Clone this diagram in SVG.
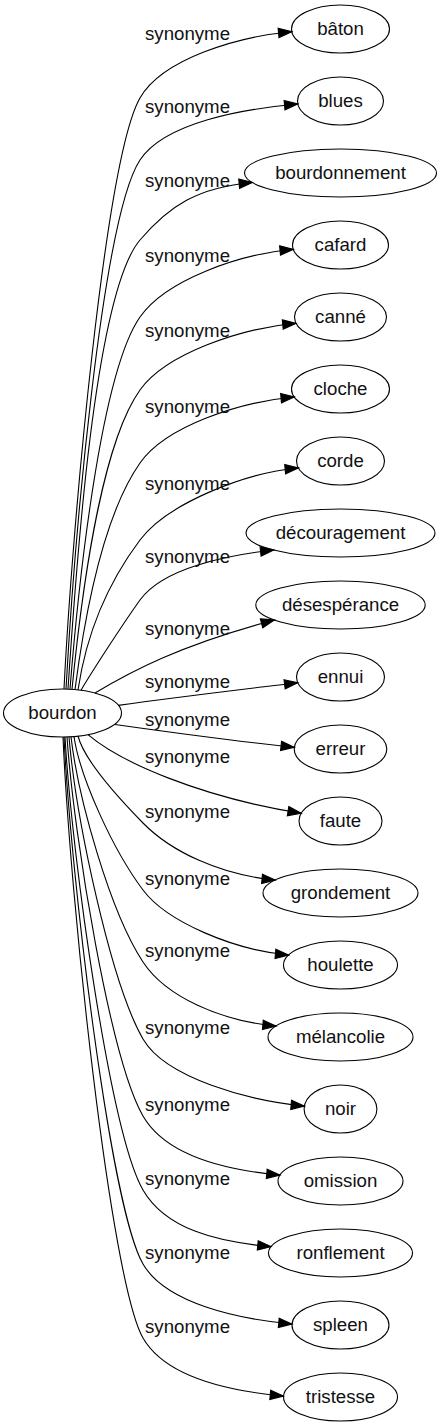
<svg xmlns="http://www.w3.org/2000/svg" width="442" height="1427" viewBox="0 0 442 1427">
<style>
.n ellipse{fill:none;stroke:#000;stroke-width:1.1}
text{font-family:"Liberation Sans",Arial,sans-serif;font-size:18.67px;text-anchor:middle;fill:#111}
.e path{fill:none;stroke:#000;stroke-width:1.1;marker-end:url(#arr)}
</style>
<defs>
<marker id="arr" markerUnits="userSpaceOnUse" viewBox="0 -6 15 12" markerWidth="15" markerHeight="12" refX="13.3" refY="0" orient="auto" overflow="visible">
<path d="M0,-4.67 L13.3,0 L0,4.67 Z" fill="#000" stroke="#000" stroke-width="1.1"/>
</marker>
</defs>
<rect width="442" height="1427" fill="#fff"/>
<g id="edges" class="e">
<path d="M64,689 C72,529 105,158.6 140,98 C162.5,59 237,36.7 291.8,31.7"/>
<path d="M66,689 C74,546 101.5,218.5 140,160 C164.8,122.4 242.8,109 297.8,104"/>
<path d="M68,689 C76,568 94.5,293.2 140,240 C169.3,205.8 197.4,187.5 252.4,182.5"/>
<path d="M70,689 C78,589 100,374 140,317 C165.7,280.1 238.3,254.3 293.3,249.3"/>
<path d="M72,689.3 C80,608.5 99.4,446.7 140,390 C166.1,353.5 241,328.3 296,323.3"/>
<path d="M75,689.5 C83,628.5 99.8,520.3 140,463 C165.9,426.2 239.3,402 294.3,397"/>
<path d="M78,690 C84,649.5 98,596 140,540 C167,504 243.4,473 298.4,468"/>
<path d="M81,690.2 C90,675 119.7,628.4 140,600 C163.2,567.6 228.8,555 273.8,550"/>
<path d="M95,693 C130,672 180,645 274.4,620"/>
<path d="M118,705.4 C178,697 238,690 297.8,682.7"/>
<path d="M115,724.5 C175,733 235,741 294.3,747.3"/>
<path d="M88,734.7 C120,762 200,797 301.2,813.3"/>
<path d="M78,736 C84,759.5 115,794.4 143,823 C171,851.6 220.3,875 275.3,880"/>
<path d="M74,736.5 C80,777.5 113,850 143,890 C167,922 233.7,950 288.7,955"/>
<path d="M71,736.8 C78,797.5 110,911.9 143,962 C166.1,997.1 221.1,1021 276.1,1026"/>
<path d="M69,737 C76,818.5 110.5,982.7 143,1039 C165.5,1078 249.4,1101 304.4,1106"/>
<path d="M67,737 C74,839 110.5,1059.7 143,1116 C165.5,1155 225,1170 280,1175"/>
<path d="M65,737 C72,859 110.5,1133.7 143,1190 C165.5,1229 216,1241.7 271,1246.7"/>
<path d="M64,737 C71,879 110.5,1207.7 143,1264 C165.5,1303 237,1319 292,1324"/>
<path d="M63,737 C70,899 110.5,1281.7 143,1338 C165.5,1377 228.5,1391 283.5,1396"/>
</g>
<g id="edge-labels">
<text x="187.5" y="39.5">synonyme</text>
<text x="187.5" y="112.5">synonyme</text>
<text x="187.5" y="186.5">synonyme</text>
<text x="187.5" y="261.5">synonyme</text>
<text x="187.5" y="336.5">synonyme</text>
<text x="187.5" y="412.5">synonyme</text>
<text x="187.5" y="489.5">synonyme</text>
<text x="187.5" y="562.5">synonyme</text>
<text x="187.5" y="634.5">synonyme</text>
<text x="187.5" y="687.5">synonyme</text>
<text x="187.5" y="725.5">synonyme</text>
<text x="187.5" y="762.5">synonyme</text>
<text x="187.5" y="817.5">synonyme</text>
<text x="187.5" y="884.5">synonyme</text>
<text x="187.5" y="956.5">synonyme</text>
<text x="187.5" y="1033.5">synonyme</text>
<text x="187.5" y="1110.5">synonyme</text>
<text x="187.5" y="1184.5">synonyme</text>
<text x="187.5" y="1258.5">synonyme</text>
<text x="187.5" y="1332.5">synonyme</text>
</g>
<g id="bourdon" class="n"><ellipse cx="62.5" cy="713" rx="59" ry="24"/><text x="62.5" y="719">bourdon</text></g>
<g id="baton" class="n"><ellipse cx="340.5" cy="29" rx="49" ry="24"/><text x="340.5" y="35">bâton</text></g>
<g id="blues" class="n"><ellipse cx="340.5" cy="101" rx="43" ry="24"/><text x="340.5" y="107">blues</text></g>
<g id="bourdonnement" class="n"><ellipse cx="340.5" cy="173" rx="96" ry="24"/><text x="340.5" y="179">bourdonnement</text></g>
<g id="cafard" class="n"><ellipse cx="340.5" cy="245" rx="48" ry="24"/><text x="340.5" y="251">cafard</text></g>
<g id="canne" class="n"><ellipse cx="340.5" cy="317" rx="46" ry="24"/><text x="340.5" y="323">canné</text></g>
<g id="cloche" class="n"><ellipse cx="340.5" cy="389" rx="49" ry="24"/><text x="340.5" y="395">cloche</text></g>
<g id="corde" class="n"><ellipse cx="340.5" cy="461" rx="44" ry="24"/><text x="340.5" y="467">corde</text></g>
<g id="decouragement" class="n"><ellipse cx="340.5" cy="533" rx="94.5" ry="24"/><text x="340.5" y="539">découragement</text></g>
<g id="desesperance" class="n"><ellipse cx="340.5" cy="605" rx="84.7" ry="24"/><text x="340.5" y="611">désespérance</text></g>
<g id="ennui" class="n"><ellipse cx="340.5" cy="677" rx="44" ry="24"/><text x="340.5" y="683">ennui</text></g>
<g id="erreur" class="n"><ellipse cx="340.5" cy="749" rx="46.3" ry="24"/><text x="340.5" y="755">erreur</text></g>
<g id="faute" class="n"><ellipse cx="340.5" cy="821" rx="41.5" ry="24"/><text x="340.5" y="827">faute</text></g>
<g id="grondement" class="n"><ellipse cx="340.5" cy="893" rx="77.5" ry="24"/><text x="340.5" y="899">grondement</text></g>
<g id="houlette" class="n"><ellipse cx="340.5" cy="965" rx="57" ry="24"/><text x="340.5" y="971">houlette</text></g>
<g id="melancolie" class="n"><ellipse cx="340.5" cy="1037" rx="72.5" ry="24"/><text x="340.5" y="1043">mélancolie</text></g>
<g id="noir" class="n"><ellipse cx="340.5" cy="1109" rx="36.4" ry="24"/><text x="340.5" y="1115">noir</text></g>
<g id="omission" class="n"><ellipse cx="340.5" cy="1181" rx="62.5" ry="24"/><text x="340.5" y="1187">omission</text></g>
<g id="ronflement" class="n"><ellipse cx="340.5" cy="1253" rx="72" ry="24"/><text x="340.5" y="1259">ronflement</text></g>
<g id="spleen" class="n"><ellipse cx="340.5" cy="1325" rx="48.5" ry="24"/><text x="340.5" y="1331">spleen</text></g>
<g id="tristesse" class="n"><ellipse cx="340.5" cy="1397" rx="57" ry="24"/><text x="340.5" y="1403">tristesse</text></g>
</svg>
